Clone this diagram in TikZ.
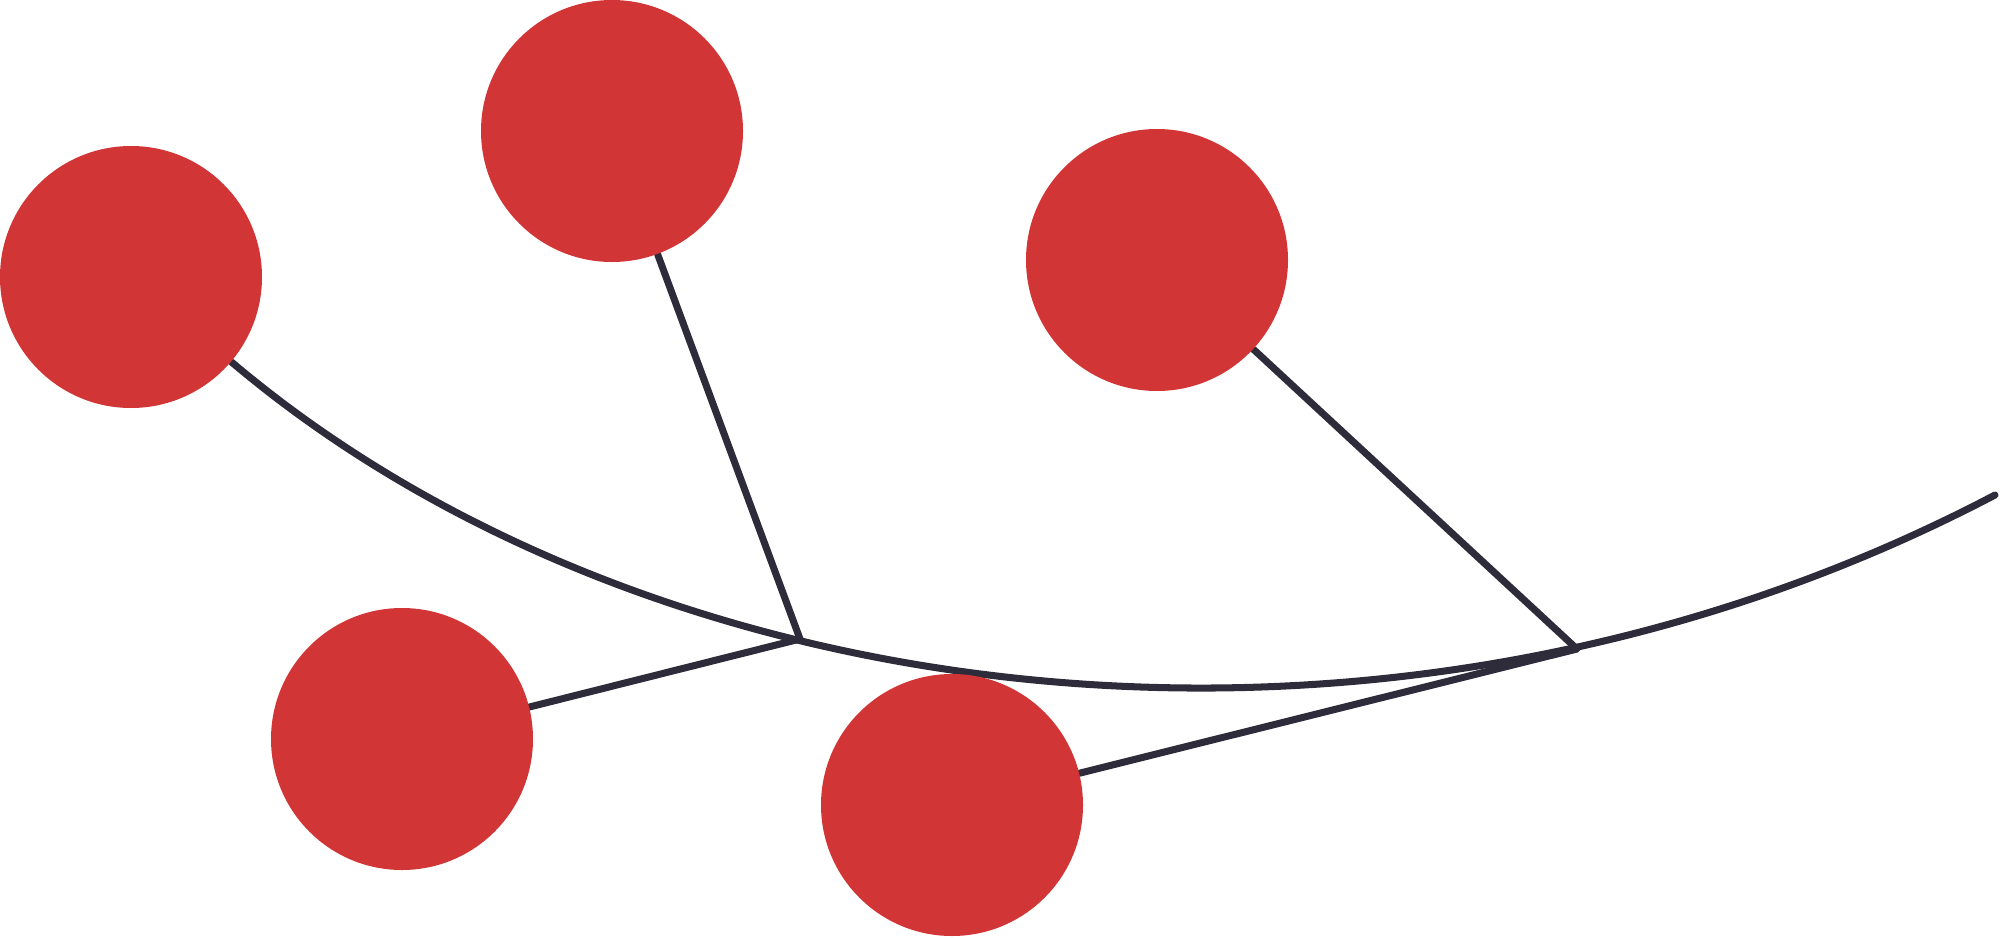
\documentclass[tikz,border=0pt]{standalone}
\usetikzlibrary{backgrounds}

\definecolor{berryred}{HTML}{D13535}
\definecolor{stemdark}{HTML}{2E2C3B}

\begin{document}
\begin{tikzpicture}[
    berry/.style={circle, fill=berryred, minimum size=2.62cm, inner sep=0pt},
    stem/.style={draw=stemdark, line width=2pt, line cap=round, line join=round}
]
    \useasboundingbox (0,0) rectangle (20,9.37);

% berries
    \node[berry] (A) at (1.31,6.60) {};
    \node[berry] (B) at (6.12,8.06) {};
    \node[berry] (C) at (11.57,6.77) {};
    \node[berry] (D) at (4.02,1.98) {};
    \node[berry] (E) at (9.52,1.32) {};

% joints on the main stem
    \coordinate (J1) at (8.00,2.98);
    \coordinate (J2) at (15.77,2.88);
    \coordinate (tip) at (19.95,4.42);

    \begin{pgfonlayer}{background}
% main stem
        \draw[stem] (A) .. controls (6.56,2.16) and (13.95,1.27) .. (tip);
% twigs
        \draw[stem] (B) -- (J1) -- (D);
        \draw[stem] (C) -- (J2) -- (E);
    \end{pgfonlayer}
\end{tikzpicture}
\end{document}
